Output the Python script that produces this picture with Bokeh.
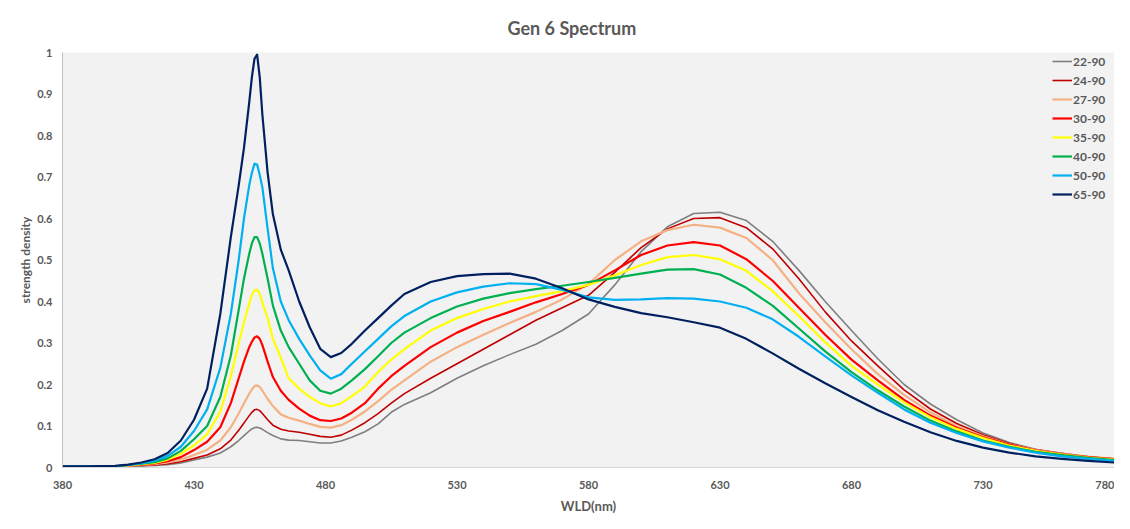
from bokeh.plotting import figure
from bokeh.models import Legend, LegendItem, FixedTicker, Range1d
from bokeh.embed import file_html
from bokeh.resources import INLINE

# ---------------- data ----------------
wavelength = [380, 390, 400, 405, 410, 415, 420, 425, 430, 435,
              440, 444, 447, 449, 451, 452, 453, 454, 455, 456,
              458, 460, 463, 466, 470, 474, 478, 482, 486, 490,
              495, 500, 505, 510, 520, 530, 540, 550, 560, 570,
              580, 590, 600, 610, 620, 630, 640, 650, 660, 670,
              680, 690, 700, 710, 720, 730, 740, 750, 760, 770,
              780]

s22_90 = [.002, .002, .002, .003, .004, .005, .007, .011, .018, .025,
          .035, .05, .065, .077, .088, .093, .096, .097, .095, .092,
          .084, .077, .069, .066, .065, .062, .059, .059, .064, .073,
          .086, .105, .133, .152, .18, .215, .245, .272, .297, .33,
          .37, .44, .52, .58, .612, .615, .595, .545, .475, .4,
          .33, .262, .2, .153, .115, .083, .06, .044, .032, .024,
          .018]
s24_90 = [.002, .002, .003, .004, .005, .006, .009, .014, .022, .03,
          .045, .066, .09, .107, .125, .133, .139, .14, .137, .13,
          .115, .102, .092, .088, .085, .08, .075, .073, .078, .09,
          .108, .13, .155, .178, .215, .25, .285, .32, .355, .385,
          .415, .47, .53, .575, .6, .602, .578, .527, .455, .375,
          .305, .245, .187, .141, .106, .079, .058, .043, .034, .026,
          .021]
s27_90 = [.002, .002, .003, .004, .006, .008, .012, .019, .03, .043,
          .065, .097, .13, .155, .178, .188, .196, .198, .194, .185,
          .165, .148, .128, .12, .113, .105, .098, .096, .102, .115,
          .135, .16, .187, .21, .255, .29, .32, .348, .375, .405,
          .442, .5, .545, .572, .585, .578, .553, .5, .42, .35,
          .285, .225, .175, .133, .1, .075, .056, .042, .033, .026,
          .021]
s30_90 = [.002, .002, .003, .005, .007, .01, .015, .025, .042, .062,
          .097, .155, .215, .255, .29, .303, .313, .316, .31, .295,
          .255, .218, .185, .163, .142, .125, .114, .112, .118, .132,
          .155, .19, .22, .245, .29, .325, .353, .375, .398, .418,
          .44, .475, .512, .535, .543, .535, .502, .45, .385, .32,
          .26, .21, .163, .125, .096, .073, .055, .041, .032, .025,
          .02]
s35_90 = [.002, .002, .003, .005, .008, .011, .019, .033, .053, .08,
          .135, .22, .3, .35, .395, .415, .427, .428, .418, .398,
          .36, .31, .265, .215, .19, .17, .155, .147, .155, .172,
          .195, .23, .26, .285, .33, .36, .382, .4, .413, .425,
          .44, .463, .488, .507, .512, .502, .474, .425, .365, .302,
          .245, .2, .157, .121, .093, .071, .053, .04, .031, .024,
          .019]
s40_90 = [.002, .002, .003, .006, .009, .013, .022, .04, .068, .1,
          .17, .27, .38, .455, .515, .54, .555, .555, .54, .515,
          .455, .39, .33, .29, .25, .21, .185, .178, .19, .21,
          .237, .268, .3, .325, .36, .388, .407, .42, .43, .438,
          .447, .457, .467, .477, .478, .465, .433, .39, .335, .28,
          .23, .186, .147, .113, .087, .065, .05, .038, .03, .023,
          .018]
s50_90 = [.003, .003, .003, .006, .01, .016, .028, .05, .088, .14,
          .24, .37, .5, .6, .68, .71, .732, .73, .705, .675,
          .575, .48, .40, .355, .31, .27, .234, .214, .225, .25,
          .28, .31, .34, .365, .4, .422, .436, .444, .442, .428,
          .41, .404, .405, .408, .407, .4, .385, .357, .315, .268,
          .222, .18, .14, .108, .083, .063, .048, .036, .027, .021,
          .016]
s65_90 = [.003, .003, .004, .007, .012, .02, .035, .065, .115, .19,
          .37, .555, .68, .77, .88, .94, .985, .995, .94, .85,
          .71, .61, .525, .475, .40, .338, .286, .266, .276, .298,
          .33, .36, .39, .418, .447, .461, .466, .467, .455, .432,
          .405, .387, .372, .362, .35, .337, .31, .275, .238, .203,
          .17, .138, .11, .085, .064, .048, .036, .027, .021, .016,
          .012]

series_names = ["22-90", "24-90", "27-90", "30-90", "35-90", "40-90", "50-90", "65-90"]
series_values = [s22_90, s24_90, s27_90, s30_90, s35_90, s40_90, s50_90, s65_90]
series_colors = ["#7f7f7f", "#c00000", "#f4b183", "#ff0000", "#ffff00", "#00b050", "#00b0f0", "#002060"]
series_widths = [1.6, 1.6, 2.2, 2.2, 2.2, 2.2, 2.2, 2.2]

x_ticks = [380, 430, 480, 530, 580, 630, 680, 730, 780]
y_ticks = [0, 0.1, 0.2, 0.3, 0.4, 0.5, 0.6, 0.7, 0.8, 0.9, 1]
y_tick_labels = ["0", "0.1", "0.2", "0.3", "0.4", "0.5", "0.6", "0.7", "0.8", "0.9", "1"]

FONT = "Lato"
TXT = "#595959"

# ---------------- figure ----------------
p = figure(frame_width=1052, frame_height=415,
           x_range=Range1d(380, 780), y_range=Range1d(0, 1),
           output_backend="svg", toolbar_location=None,
           min_border_left=62, min_border_right=0,
           min_border_top=52, min_border_bottom=46,
           background_fill_color="#f2f2f2", border_fill_color="white",
           outline_line_color=None)

p.title.text = "Gen 6 Spectrum"
p.title.align = "left"
p.title.text_font = FONT
p.title.text_font_size = "18px"
p.title.text_font_style = "bold"
p.title.text_color = TXT
p.title.standoff = 27
p.title.offset = 445

p.xgrid.visible = False
p.ygrid.visible = False

for ax in (p.xaxis, p.yaxis):
    ax.major_tick_line_color = None
    ax.minor_tick_line_color = None
    ax.major_label_text_font = FONT
    ax.major_label_text_font_style = "bold"
    ax.major_label_text_font_size = "11px"
    ax.major_label_text_color = TXT
    ax.axis_label_text_font = FONT
    ax.axis_label_text_font_style = "bold"
    ax.axis_label_text_color = TXT

p.xaxis.major_label_standoff = 7
p.yaxis.major_label_standoff = 4
p.xaxis.ticker = FixedTicker(ticks=x_ticks)
p.yaxis.ticker = FixedTicker(ticks=y_ticks)
p.yaxis.major_label_overrides = {t: l for t, l in zip(y_ticks, y_tick_labels)}
p.xaxis.axis_label = "WLD(nm)"
p.xaxis.axis_label_text_font_size = "13px"
p.xaxis.axis_label_standoff = 6
p.yaxis.axis_label = "strength density"
p.yaxis.axis_label_text_font_size = "12px"
p.yaxis.axis_label_standoff = 1
p.xaxis.axis_line_color = "#d9d9d9"
p.yaxis.axis_line_color = "#bfbfbf"

items = []
for name, vals, col, lw in zip(series_names, series_values, series_colors, series_widths):
    r = p.line(wavelength, vals, line_color=col, line_width=lw, line_join="round")
    items.append(LegendItem(label=name, renderers=[r]))

legend = Legend(items=items, location=(990, 265),
                background_fill_alpha=0, border_line_color=None,
                label_text_font=FONT, label_text_font_style="bold",
                label_text_font_size="12px", label_text_color=TXT,
                glyph_width=20, glyph_height=16, label_height=16,
                label_standoff=1, spacing=3, padding=2, margin=0)
p.add_layout(legend)

open("out.html", "w").write(file_html(p, INLINE))
